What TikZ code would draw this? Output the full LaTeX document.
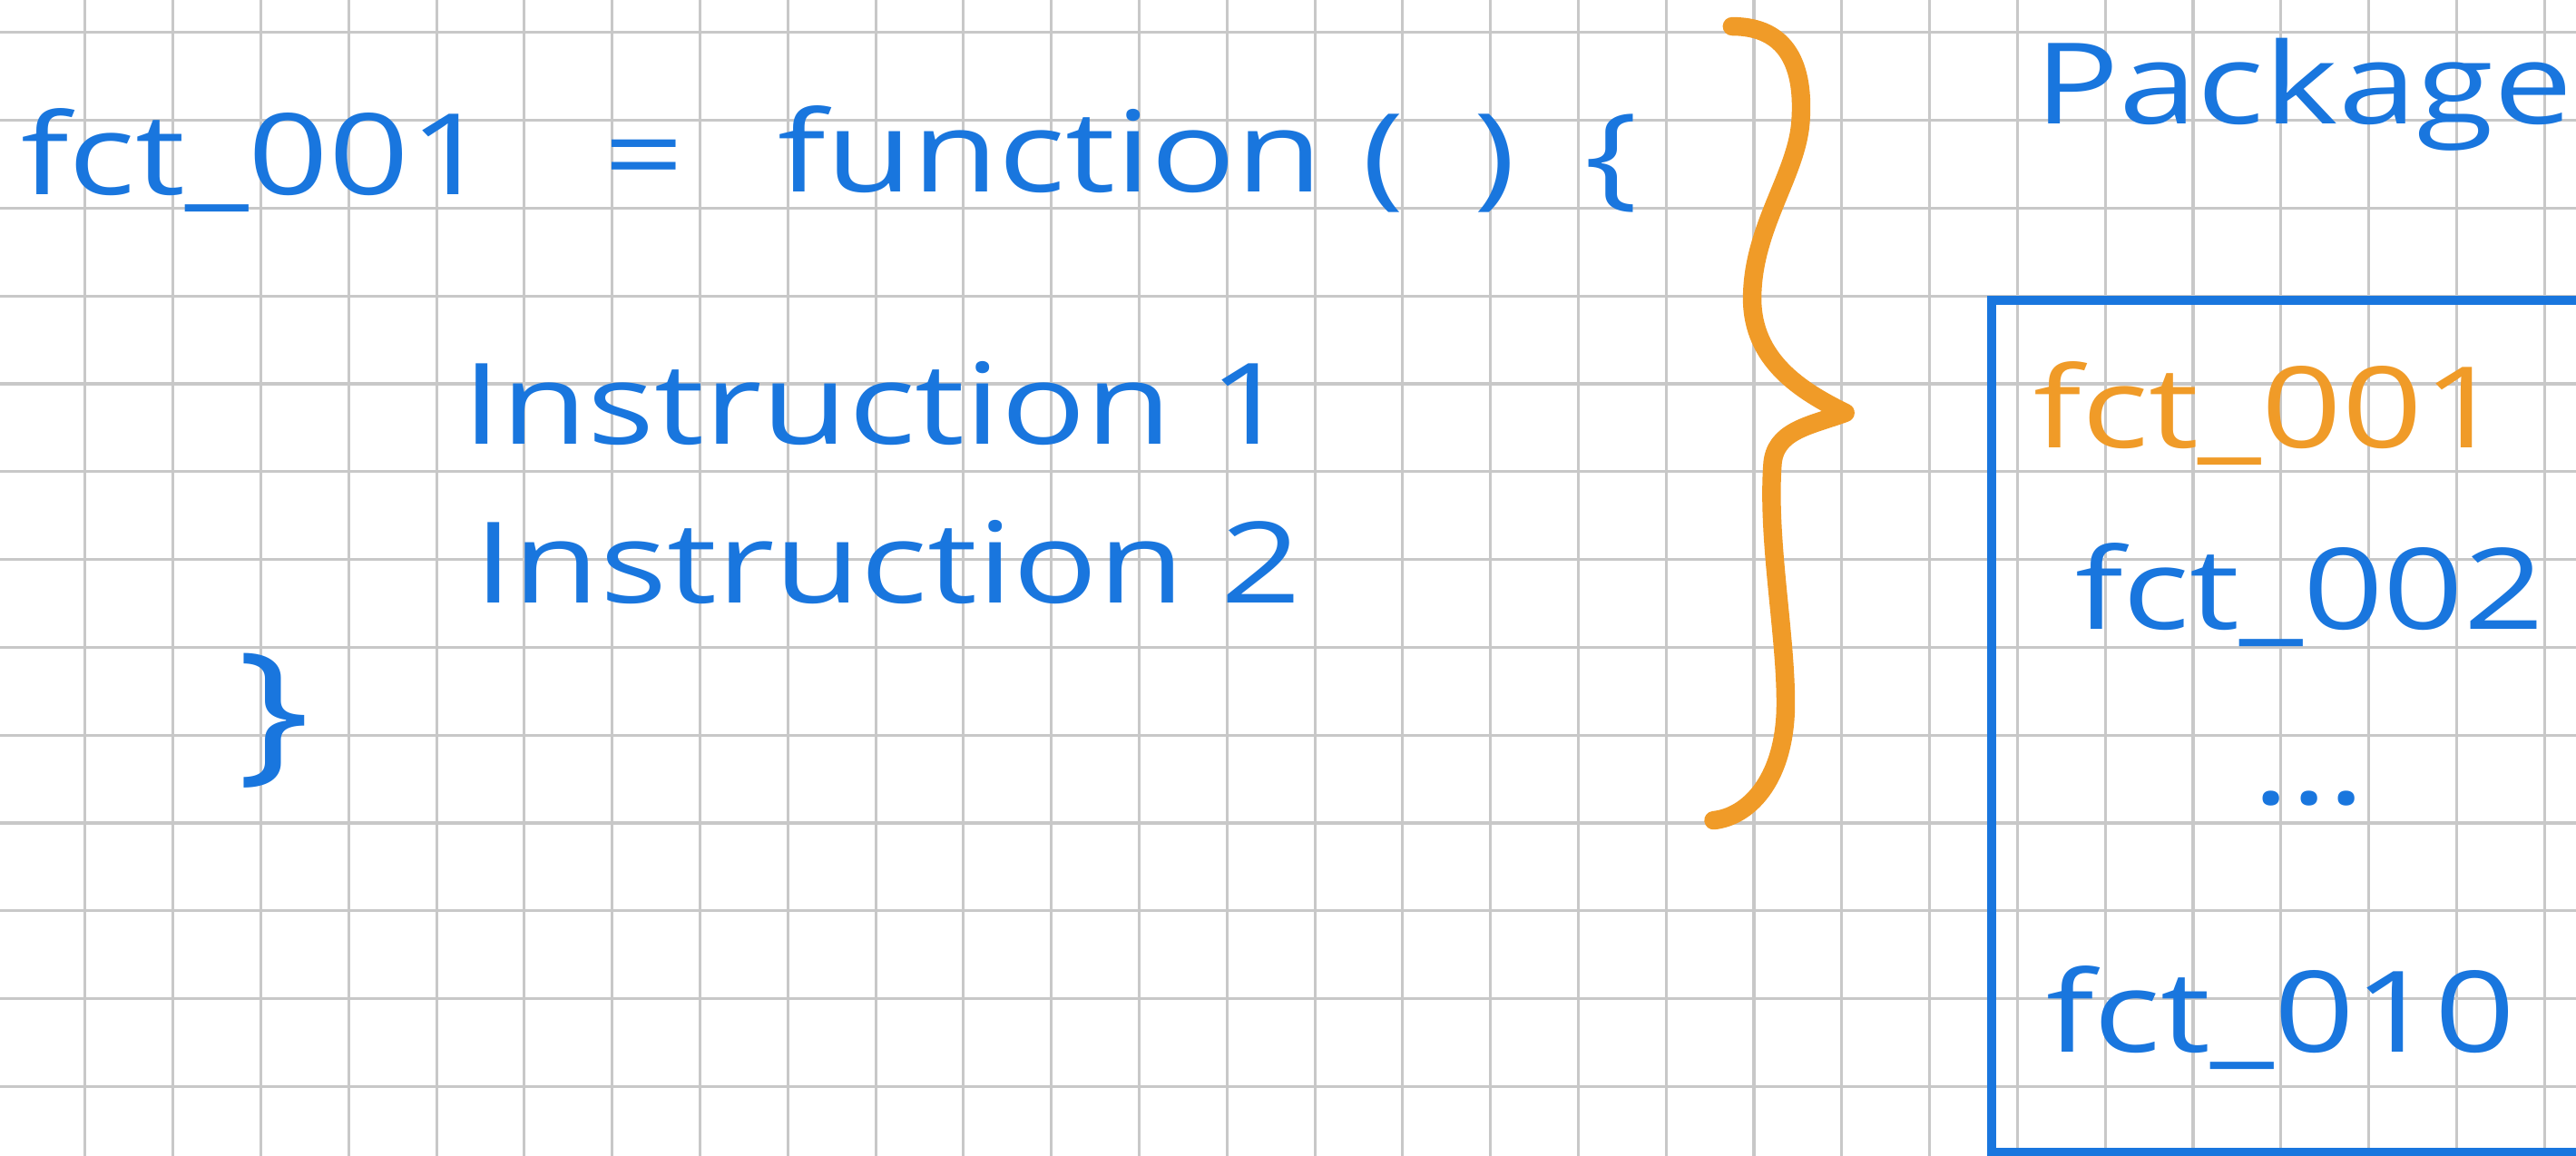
\documentclass[tikz,border=0pt]{standalone}
\usepackage{fontspec}
\newfontfamily\handfont{Open Sans}[FakeStretch=1.25]
\definecolor{penblue}{RGB}{25,118,222}
\definecolor{penorange}{RGB}{240,155,40}
\definecolor{gridgray}{RGB}{200,200,200}
\tikzset{
  hand/.style={text=penblue, font=\handfont\fontsize{36.5}{40}\selectfont, anchor=base, inner sep=0pt},
  handorange/.style={hand, text=penorange},
  gridline/.style={gridgray, line width=0.9pt},
}
\begin{document}
\begin{tikzpicture}
  \useasboundingbox[fill=white] (0,0) rectangle (29.33,-13.16);
  \clip (0,0) rectangle (29.33,-13.16);

  %grid
  \foreach \x in {0,...,29} \draw[gridline] (\x-0.03,0) -- (\x-0.03,-13.16);
  \foreach \y in {0,...,12} \draw[gridline] (0,-\y-0.37) -- (29.33,-\y-0.37);

  %function on the left
  \node[hand] (name) at (2.91,-2.22) {fct\_001};
  \node[hand] (eq) at (7.33,-2.22) {=};
  \node[hand] (fun) at (11.96,-2.19) {function};
  \node[hand] (lpar) at (15.75,-2.22) {(};
  \node[hand] (rpar) at (17.02,-2.22) {)};
  \node[hand] (open) at (18.35,-2.22) {\{};
  \node[hand] (instr1) at (9.97,-5.06) {Instruction 1};
  \node[hand] (instr2) at (10.11,-6.87) {Instruction 2};
  \node[hand, anchor=center, font=\handfont\fontsize{50}{60}\selectfont] (close) at (3.12,-8.21) {\}};

  %big brace
  \draw[penorange, line width=6pt, line cap=round, line join=round]
    (19.72,-0.30) .. controls (20.35,-0.30) and (20.55,-0.75) .. (20.50,-1.40)
    .. controls (20.45,-2.00) and (19.95,-2.60) .. (19.95,-3.40)
    .. controls (19.95,-4.10) and (20.50,-4.45) .. (21.01,-4.70)
    .. controls (20.60,-4.85) and (20.20,-4.90) .. (20.18,-5.30)
    .. controls (20.12,-6.20) and (20.35,-7.30) .. (20.33,-8.10)
    .. controls (20.30,-8.90) and (19.90,-9.30) .. (19.51,-9.34);

  %package box
  \node[hand] (pkg) at (26.23,-1.41) {Package};
  \draw[penblue, line width=3pt] (22.68,-3.42) rectangle (30,-13.12);
  \node[handorange] (f1) at (25.83,-5.10) {fct\_001};
  \node[hand] (f2) at (26.30,-7.16) {fct\_002};
  \node[hand] (dots) at (26.29,-9.16) {...};
  \node[hand] (f10) at (25.97,-11.98) {fct\_010};
\end{tikzpicture}
\end{document}
